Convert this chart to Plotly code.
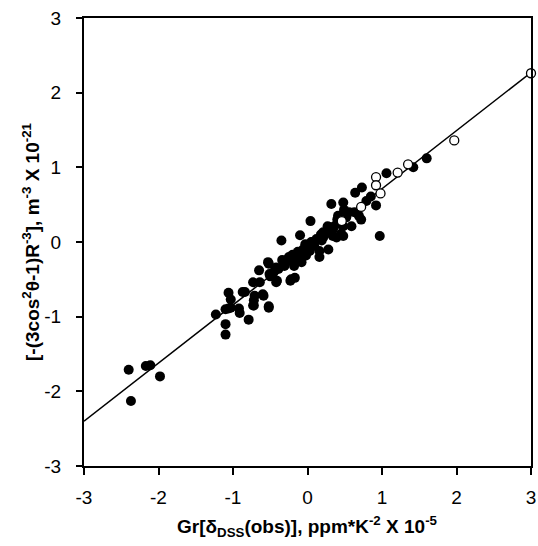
import plotly.graph_objects as go

# filled circles (x, y)
filled_x = [-2.40, -2.37, -2.17, -2.11, -1.98,
            -1.23, -1.10, -1.03, -1.10, -1.10, -0.92, -0.91, -0.79, -0.72, -0.72, -1.03,
            -1.06, -1.06, -0.87, -0.73, -0.71,
            -0.60, -0.52, -0.65, -0.52, -0.42, -0.42, -0.50, -0.53, -0.39, -0.51, -0.64,
            -0.41, -0.84, -0.59, -0.73, -0.52,
            -0.35, -0.34, -0.20, -0.22, -0.17, -0.23, -0.31, -0.10, -0.17, -0.23,
            -0.10, 0.04, -0.10, -0.02, 0.07, 0.16, 0.21, 0.28, 0.27, 0.34, 0.32, -0.03,
            -0.07, -0.08, 0.03, 0.09, 0.21, 0.36, 0.34, 0.07, 0.19, 0.16, 0.29, 0.39, 0.41,
            -0.30, -0.25, -0.20, -0.13, -0.06, 0.00, 0.05, 0.12, 0.18, 0.25, -0.18, -0.45,
            0.48, 0.64, 0.52, 0.59, 0.48, 0.45, 0.48, 0.40, 0.49, 0.56, 0.63, 0.69, 0.72,
            0.79, 0.85, 0.73, 0.92, 0.97, 1.06, 1.42, 1.60]
filled_y = [-1.71, -2.13, -1.66, -1.65, -1.80,
            -0.97, -0.90, -0.88, -1.10, -1.24, -0.89, -0.95, -1.04, -0.85, -0.78, -0.77,
            -0.68, -0.89, -0.67, -0.54, -0.72,
            -0.70, -0.88, -0.38, -0.29, -0.34, -0.54, -0.46, -0.27, -0.36, -0.43, -0.54,
            -0.52, -0.67, -0.72, -0.85, -0.86,
            0.02, -0.24, -0.17, -0.50, -0.48, -0.25, -0.32, -0.16, -0.27, -0.52,
            0.09, 0.28, -0.23, -0.18, -0.05, -0.12, 0.06, -0.10, 0.21, 0.17, 0.51, -0.03,
            -0.16, -0.27, -0.12, -0.05, 0.13, 0.21, 0.08, 0.00, 0.02, -0.20, 0.20, 0.06, 0.35,
            -0.28, -0.20, -0.22, -0.13, -0.10, -0.06, 0.00, 0.04, 0.10, 0.12, -0.32, -0.40,
            0.53, 0.66, 0.33, 0.21, 0.08, 0.11, 0.21, 0.30, 0.43, 0.40, 0.40, 0.35, 0.30,
            0.55, 0.61, 0.73, 0.49, 0.08, 0.92, 1.00, 1.12]

# open circles
open_x = [0.46, 0.72, 0.92, 0.92, 0.98, 1.21, 1.35, 1.97, 3.00]
open_y = [0.28, 0.47, 0.87, 0.76, 0.65, 0.93, 1.04, 1.36, 2.26]

# regression line ends
fit_x = [-3, 3]
fit_y = [-2.40, 2.27]

ticks = [-3, -2, -1, 0, 1, 2, 3]
tick_labels = [str(t) for t in ticks]

x_title = "<b>Gr[δ<sub>DSS</sub>(obs)], ppm*K<sup>-2</sup> X 10<sup>-5</sup></b>"
y_title = "<b>[-(3cos<sup>2</sup>θ-1)R<sup>-3</sup>], m<sup>-3</sup> X 10<sup>-21</sup></b>"

fig = go.Figure()
fig.add_trace(go.Scatter(x=fit_x, y=fit_y, mode="lines",
                         line=dict(color="black", width=1.5), cliponaxis=False))
fig.add_trace(go.Scatter(x=filled_x, y=filled_y, mode="markers",
                         marker=dict(color="black", size=10, line=dict(width=0)),
                         cliponaxis=False))
fig.add_trace(go.Scatter(x=open_x, y=open_y, mode="markers",
                         marker=dict(color="white", size=9,
                                     line=dict(color="black", width=1.3)),
                         cliponaxis=False))

tick_font = dict(family="Liberation Sans, Arial", size=19, color="black")
title_font = dict(family="Liberation Sans, Arial", size=19, color="black")
fig.update_layout(
    width=538, height=546,
    margin=dict(l=84, r=7, t=18, b=80),
    plot_bgcolor="white", paper_bgcolor="white",
    showlegend=False,
    font=tick_font,
)
fig.update_xaxes(range=[-3, 3], tickvals=ticks, ticktext=tick_labels,
                 showgrid=False, zeroline=False, automargin=False,
                 showline=True, linecolor="black", linewidth=2, mirror=True,
                 ticks="outside", ticklen=7, tickwidth=1.5, tickcolor="black",
                 ticklabelstandoff=6, ticklabeloverflow="allow", tickfont=tick_font)
fig.update_yaxes(range=[-3, 3], tickvals=ticks, ticktext=tick_labels,
                 showgrid=False, zeroline=False, automargin=False,
                 showline=True, linecolor="black", linewidth=2, mirror=True,
                 ticks="outside", ticklen=6, tickwidth=1.5, tickcolor="black",
                 ticklabelstandoff=11, ticklabeloverflow="allow", tickfont=tick_font,
                 title=dict(text=y_title, font=title_font, standoff=0))

fig.add_annotation(text=x_title, xref="paper", yref="paper", x=0.5, y=-0.135,
                   xanchor="center", yanchor="middle", showarrow=False, font=title_font)

# drop the default 8px page margin so the figure sits at the window corner
fig.write_html("out.html", config={"displayModeBar": False},
               post_script="document.body.style.margin='0px';")
